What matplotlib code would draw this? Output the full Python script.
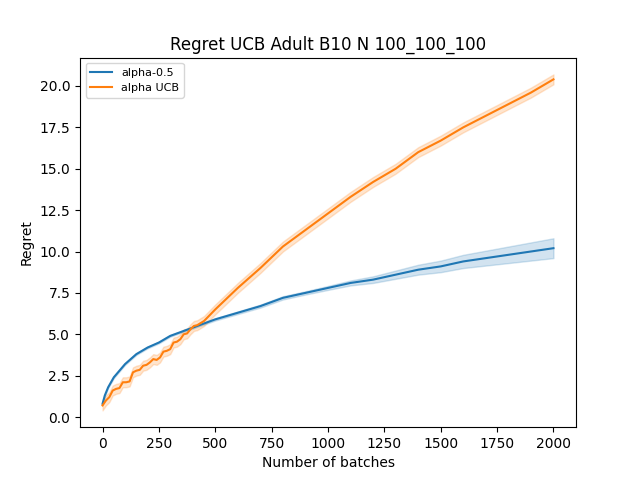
import numpy as np
import matplotlib.pyplot as plt

# valores
x_blue = [0, 10, 25, 50, 75, 100, 150, 200, 250, 300, 350, 400, 500, 600, 700, 800, 900, 1000,
          1100, 1200, 1300, 1400, 1500, 1600, 1700, 1800, 1900, 2000]
y_blue = [0.8, 1.3, 1.8, 2.4, 2.8, 3.2, 3.8, 4.2, 4.5, 4.9, 5.15, 5.4, 5.9, 6.3, 6.7, 7.2, 7.5, 7.8,
          8.1, 8.3, 8.6, 8.9, 9.1, 9.4, 9.6, 9.8, 10.0, 10.2]
e_blue = [0.05, 0.05, 0.05, 0.05, 0.05, 0.05, 0.05, 0.05, 0.05, 0.05, 0.05, 0.06, 0.07, 0.08, 0.09, 0.1, 0.1, 0.12,
          0.15, 0.2, 0.25, 0.3, 0.35, 0.4, 0.45, 0.5, 0.55, 0.6]

x_orange = [0, 15, 30, 45, 60, 75, 90, 105, 120, 135, 150, 165, 180, 195, 210, 225, 240, 255, 270,
            285, 300, 315, 330, 345, 360, 375, 390, 405, 420, 450, 500, 600, 700, 800, 900, 1000,
            1100, 1200, 1300, 1400, 1500, 1600, 1700, 1800, 1900, 2000]
y_orange = [0.7, 1.0, 1.2, 1.6, 1.7, 1.75, 2.1, 2.1, 2.15, 2.7, 2.8, 2.85, 3.1, 3.15, 3.3, 3.5, 3.45, 3.6, 3.95,
            4.0, 4.1, 4.5, 4.55, 4.7, 5.0, 5.05, 5.3, 5.5, 5.55, 5.8, 6.5, 7.8, 9.0, 10.3, 11.3, 12.3,
            13.3, 14.2, 15.0, 16.0, 16.7, 17.5, 18.2, 18.9, 19.6, 20.4]
e_orange = 0.3

x_blue, y_blue, e_blue = np.array(x_blue), np.array(y_blue), np.array(e_blue)
x_orange, y_orange = np.array(x_orange), np.array(y_orange)

plt.figure(figsize=(6.4, 4.8))
plt.plot(x_blue, y_blue, color='tab:blue', label='alpha-0.5')
plt.fill_between(x_blue, y_blue - e_blue, y_blue + e_blue, color='tab:blue', alpha=0.2)
plt.plot(x_orange, y_orange, color='tab:orange', label='alpha UCB')
plt.fill_between(x_orange, y_orange - e_orange, y_orange + e_orange, color='tab:orange', alpha=0.2)
plt.title("Regret UCB Adult B10 N 100_100_100")
plt.xlabel("Number of batches")
plt.ylabel("Regret")
plt.legend(loc='upper left', fontsize=8)
plt.savefig("out.png", dpi=100)
